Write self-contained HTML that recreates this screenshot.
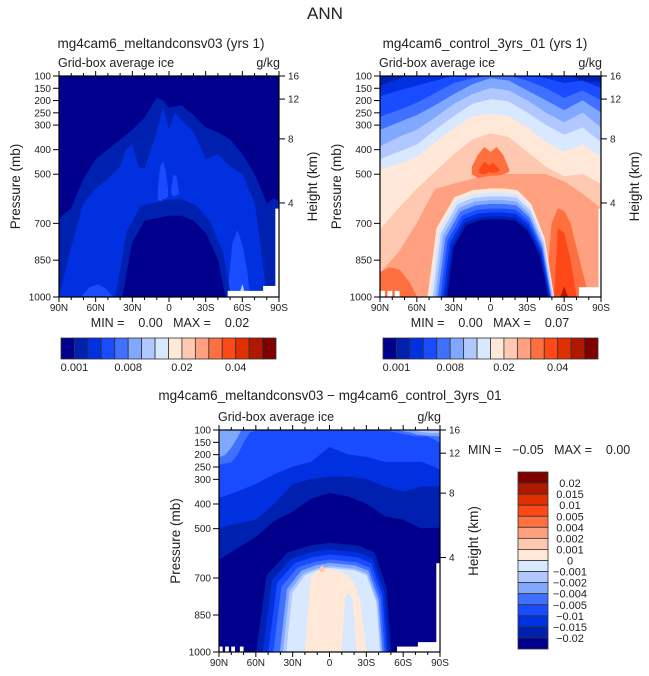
<!DOCTYPE html>
<html><head><meta charset="utf-8">
<style>
html,body{margin:0;padding:0;background:#fff;}
svg{display:block;font-family:"Liberation Sans",sans-serif;}
text{fill:#222;white-space:pre;}
</style></head>
<body>
<svg id="fig" width="649" height="676" viewBox="0 0 649 676" xmlns="http://www.w3.org/2000/svg">
<text x="325" y="19" font-size="17" text-anchor="middle" fill="#444">ANN</text>
</svg>
<script>
const palette=["#00008c","#0020b0","#0030e0","#1a4cff","#4070ff","#80a8ff","#b0c8ff","#d8e8ff","#ffe8d8","#ffc8b0","#ffa080","#ff7040","#ff4818","#e03000","#b01800","#800000"];
const pTicks=[100,150,200,250,300,400,500,700,850,1000];
const latTicks=[90,60,30,0,-30,-60,-90];
const latLabels=["90N","60N","30N","0","30S","60S","90S"];
const heightLabels=[16,12,8,4];
const heightP=[100,194,356,617];
const cbLabelsTop=["0.001","0.008","0.02","0.04"];
const cbLabelIdxTop=[1,5,9,13];
const cbLabelsDiff=["0.02","0.015","0.01","0.005","0.004","0.002","0.001","0","-0.001","-0.002","-0.004","-0.005","-0.01","-0.015","-0.02"];
const lats13=[90,75,60,45,30,15,0,-15,-30,-45,-60,-75,-90];

// Panel 1 (meltandconsv03)
const p1OuterLats=[90,80,70,60,50,40,30,20,10,5,0,-10,-20,-30,-40,-50,-60,-70,-80,-85,-90];
const p1OuterTops=[680,640,520,440,400,360,320,270,190,200,230,220,260,310,330,360,420,500,620,600,610];
const p1InnerLats=[90,80,70,60,50,40,35,30,25,20,10,5,0,-5,-10,-20,-30,-40,-50,-60,-70,-75,-80,-90];
const p1InnerTops=[1000,800,620,560,520,470,400,380,470,480,330,230,320,250,280,330,440,420,470,500,620,800,1000,1000];
const p1CoreLats=[38,30,20,10,0,-10,-20,-30,-40,-46];
const p1CoreTops=[1000,780,690,680,670,670,690,740,850,1000];
const p1Blob1Lats=[9,7,5,3,1], p1Blob1Tops=[560,470,450,480,560], p1Blob1Bots=[600,610,600,600,590];
const p1Blob2Lats=[-2,-4,-6,-8], p1Blob2Tops=[560,500,510,570], p1Blob2Bots=[580,590,585,580];
const p1Blob3Lats=[-48,-52,-56,-60,-64,-66], p1Blob3Tops=[1000,780,730,790,900,1000];
const p1Blob4Lats=[72,65,58,52,46], p1Blob4Tops=[1000,960,950,965,1000];
const p1Spot1Lats=[-57,-60,-63], p1Spot1Tops=[1000,950,1000];

// Panel 2 (control)
const p2Levels=[
 [184,160,140,120,100,100,100,100,100,110,130,120,150],
 [267,240,210,170,130,110,100,100,120,150,190,160,200],
 [320,290,260,220,175,135,110,120,160,200,240,200,250],
 [388,350,320,270,215,175,150,160,200,250,290,250,310],
 [440,410,380,320,265,215,195,205,250,300,340,310,370],
 [483,460,430,370,315,265,255,265,310,370,410,380,430],
 [727,640,560,490,420,360,335,350,410,470,510,500,540],
 [903,820,700,560,540,520,500,500,500,500,530,580,640]
];
const p2LevelColors=[3,4,5,6,7,8,9,10];
const p2OrangeLLats=[90,82,74,66,60], p2OrangeLTops=[900,880,890,940,1000];
const p2OrangeRLats=[-45,-50,-55,-60,-65,-70,-75,-80], p2OrangeRTops=[1000,700,640,650,700,800,900,1000];
const p2RedRLats=[-52,-55,-60,-65,-70], p2RedRTops=[1000,720,740,850,1000];
const p2DarkLats=[-57,-60,-63], p2DarkTops=[1000,960,1000];
const p2Blob11Lats=[15,10,5,0,-5,-10,-15], p2Blob11Tops=[470,420,390,410,390,420,480], p2Blob11Bots=[500,515,510,505,505,500,490];
const p2Blob12Lats=[9,5,1,-2,-7], p2Blob12Tops=[480,450,465,455,480], p2Blob12Bots=[495,500,490,495,488];
const p2ArchLats=[35,30,20,10,0,-10,-20,-30,-40,-47];
const p2ArchTops=[1000,800,710,690,685,685,690,730,830,1000];
const p2RingColors=[8,7,6,5,4,3,2,1,0];
const p2RingSL=[1.46,1.40,1.34,1.28,1.22,1.16,1.10,1.05,1];
const p2RingSR=[1.10,1.09,1.08,1.06,1.05,1.04,1.03,1.01,1];
const p2RingSP=[1.40,1.35,1.30,1.25,1.20,1.14,1.09,1.04,1];

// Panel 3 (difference)
const p3L2=[376,350,320,280,250,230,170,200,210,230,230,230,260];
const p3L1=[497,480,465,400,320,300,290,290,300,330,351,330,330];
const p3L0=[627,580,534,470,432,380,356,370,400,450,465,500,497];
const p3TL4Lats=[90,80,75,70,65,60], p3TL4Bots=[240,230,200,150,110,100];
const p3TL5Lats=[90,85,80,75,72], p3TL5Bots=[210,200,170,130,100];
const p3TR4Lats=[-40,-50,-60,-70,-80,-90], p3TR4Bots=[100,105,115,125,125,150];
const p3TR5Lats=[-55,-65,-72,-80,-90], p3TR5Bots=[100,108,118,122,125];
const p3TR6Lats=[-68,-76,-84,-90], p3TR6Bots=[100,108,112,110];
const p3ArchLats=[35,30,20,10,0,-10,-20,-30,-38,-41];
const p3ArchTops=[1000,760,690,670,660,665,670,690,800,1000];
const p3RingColors=[1,2,3,4,5,6,7];
const p3RingSL=[1.7,1.55,1.42,1.3,1.15,1.08,1];
const p3RingSR=[1.22,1.17,1.13,1.09,1.05,1.02,1];
const p3RingSP=[1.3,1.22,1.16,1.1,1.06,1.02,1];
const p3PeachLats=[20,15,10,5,0,-5,-10,-15,-20,-25,-30];
const p3PeachTops=[1000,700,670,660,665,670,680,690,720,800,1000];
const p3BlueStreakLats=[-10,-13,-16,-19,-22], p3BlueStreakTops=[1000,780,760,800,1000];
const p3RedSpotLats=[8,6,4], p3RedSpotTops=[660,650,662], p3RedSpotBots=[672,675,670];

const NS="http://www.w3.org/2000/svg";
const svg=document.getElementById('fig');
function mk(tag,attrs,parent){const e=document.createElementNS(NS,tag);for(const k in attrs)e.setAttribute(k,attrs[k]);(parent||svg).appendChild(e);return e;}

function makePanel(x0,y0,w,h){
  return {x0,y0,w,h,
    X:lat=>x0+(90-lat)/180*w,
    Y:p=>y0+(p-100)/900*h};
}
function layer(g,P,color,lats,tops,bots,name){
  let pts=lats.map((l,i)=>P.X(Math.max(-90,Math.min(90,l)))+","+P.Y(tops[i]));
  if(bots){for(let i=lats.length-1;i>=0;i--)pts.push(P.X(lats[i])+","+P.Y(bots[i]));}
  else{pts.push(P.X(Math.max(-90,Math.min(90,lats[lats.length-1])))+","+P.Y(1000));pts.push(P.X(Math.max(-90,Math.min(90,lats[0])))+","+P.Y(1000));}
  const e=mk('polygon',{points:pts.join(" "),fill:color,stroke:color,'stroke-width':0.5},g);
  
  
  return e;
}
function ring(g,P,color,lats,tops,sl,sr,sp,name){
  const L=lats.map(l=>l>=0?Math.min(90,l*sl):Math.max(-90,l*sr));
  const T=tops.map(p=>Math.max(100,1000-(1000-p)*sp));
  layer(g,P,color,L,T,null,name);
}
function whiteRect(g,P,lat1,lat2,p1,p2){
  const e=mk('rect',{x:P.X(lat1),y:P.Y(p1),width:P.X(lat2)-P.X(lat1),height:P.Y(p2)-P.Y(p1),fill:'#fff'},g);
  
  
}
function axes(P,prefix,titleTxt,titleX,titleY){
  const g=mk('g',{});
  
  
  mk('rect',{x:P.x0,y:P.y0,width:P.w,height:P.h,fill:'none',stroke:'#000','stroke-width':1.2},g);
  pTicks.forEach(p=>{
    const y=P.Y(p);
    mk('line',{x1:P.x0-6,y1:y,x2:P.x0,y2:y,stroke:'#000'},g);
    const t=mk('text',{x:P.x0-8,y:y+3.5,'font-size':10,'text-anchor':'end'},g);t.textContent=p;
    
    
  });
  heightLabels.forEach((hk,i)=>{
    const y=P.Y(heightP[i]);
    mk('line',{x1:P.x0+P.w,y1:y,x2:P.x0+P.w+6,y2:y,stroke:'#000'},g);
    const t=mk('text',{x:P.x0+P.w+9,y:y+3.5,'font-size':10},g);t.textContent=hk;
    
    
  });
  latTicks.forEach((l,i)=>{
    const x=P.X(l);
    mk('line',{x1:x,y1:P.y0+P.h,x2:x,y2:P.y0+P.h+5,stroke:'#000'},g);
    mk('line',{x1:x,y1:P.y0,x2:x,y2:P.y0-5,stroke:'#000'},g);
    const t=mk('text',{x:x,y:P.y0+P.h+14,'font-size':10,'text-anchor':'middle'},g);t.textContent=latLabels[i];
    
    
  });
  for(let l=80;l>-90;l-=10){ if(l%30===0)continue;
    const x=P.X(l);
    mk('line',{x1:x,y1:P.y0+P.h,x2:x,y2:P.y0+P.h+3,stroke:'#000'},g);
    mk('line',{x1:x,y1:P.y0,x2:x,y2:P.y0-3,stroke:'#000'},g);
  }
  let t=mk('text',{x:P.x0-1,y:P.y0-9,'font-size':12.5},g);t.textContent='Grid-box average ice';
  
  t=mk('text',{x:P.x0+P.w+1,y:P.y0-9,'font-size':12.5,'text-anchor':'end'},g);t.textContent='g/kg';
  
  const cy=P.y0+P.h/2;
  t=mk('text',{x:P.x0-39,y:cy,'font-size':13.5,'text-anchor':'middle',transform:`rotate(-90 ${P.x0-39} ${cy})`,fill:'#333'},g);t.textContent='Pressure (mb)';
  
  t=mk('text',{x:P.x0+P.w+38,y:cy,'font-size':13.5,'text-anchor':'middle',transform:`rotate(-90 ${P.x0+P.w+38} ${cy})`,fill:'#444'},g);t.textContent='Height (km)';
  
  t=mk('text',{x:titleX,y:titleY,'font-size':13.5,'text-anchor':'middle'},g);t.textContent=titleTxt;
  
}
function clipGroup(P,id,name){
  const cp=mk('clipPath',{id:id});mk('rect',{x:P.x0,y:P.y0,width:P.w,height:P.h},cp);
  const g=mk('g',{'clip-path':`url(#${id})`});
  
  
  return g;
}
function hColorbar(x,y,w,h,name){
  const g=mk('g',{});
  
  
  const bw=w/palette.length;
  palette.forEach((c,i)=>{
    const r=mk('rect',{x:x+i*bw,y:y,width:bw,height:h,fill:c,stroke:'#333','stroke-width':0.8},g);
    
    
  });
  cbLabelsTop.forEach((s,i)=>{
    const t=mk('text',{x:x+cbLabelIdxTop[i]*bw,y:y+h+12,'font-size':11,'text-anchor':'middle'},g);t.textContent=s;
    
  });
}

// ---------- Panel 1 ----------
const P1=makePanel(59,76,220,221);
{
  const g=clipGroup(P1,'c1','panel1-contours');
  mk('rect',{x:P1.x0,y:P1.y0,width:P1.w,height:P1.h,fill:palette[0]},g);
  layer(g,P1,palette[1],p1OuterLats,p1OuterTops);
  layer(g,P1,palette[2],p1InnerLats,p1InnerTops);
  layer(g,P1,palette[3],p1Blob1Lats,p1Blob1Tops,p1Blob1Bots);
  layer(g,P1,palette[3],p1Blob2Lats,p1Blob2Tops,p1Blob2Bots);
  layer(g,P1,palette[3],p1Blob3Lats,p1Blob3Tops);
  layer(g,P1,palette[3],p1Blob4Lats,p1Blob4Tops);
  layer(g,P1,palette[6],p1Spot1Lats,p1Spot1Tops);
  ring(g,P1,palette[1],p1CoreLats,p1CoreTops,1.15,1.1,1.2,'core-ring');
  layer(g,P1,palette[0],p1CoreLats,p1CoreTops,null,'core');
  whiteRect(g,P1,-48,-90,975,1000);
  whiteRect(g,P1,-77,-90,955,1000);
  whiteRect(g,P1,-87,-90,640,1000);
  axes(P1,'panel1','mg4cam6_meltandconsv03 (yrs 1)',161,48);
  const t=mk('text',{x:170,y:327,'font-size':12.5,'text-anchor':'middle'});t.textContent='MIN =    0.00   MAX =    0.02';
  
  hColorbar(61,338,215,21,'panel1-colorbar');
}
// ---------- Panel 2 ----------
const P2=makePanel(380,76,221,221);
{
  const g=clipGroup(P2,'c2','panel2-contours');
  mk('rect',{x:P2.x0,y:P2.y0,width:P2.w,height:P2.h,fill:palette[2]},g);
  layer(g,P2,palette[1],[90,80,70],[100,100,100],[140,120,100],'top-band');
  layer(g,P2,palette[1],[-65,-75,-90],[100,100,100],[100,120,125],'top-band');
  p2Levels.forEach((tops,i)=>layer(g,P2,palette[p2LevelColors[i]],lats13,tops));
  layer(g,P2,palette[11],p2OrangeLLats,p2OrangeLTops);
  layer(g,P2,palette[11],p2OrangeRLats,p2OrangeRTops);
  layer(g,P2,palette[12],p2RedRLats,p2RedRTops);
  layer(g,P2,palette[14],p2DarkLats,p2DarkTops);
  layer(g,P2,palette[11],p2Blob11Lats,p2Blob11Tops,p2Blob11Bots);
  layer(g,P2,palette[12],p2Blob12Lats,p2Blob12Tops,p2Blob12Bots);
  p2RingColors.forEach((c,i)=>ring(g,P2,palette[c],p2ArchLats,p2ArchTops,p2RingSL[i],p2RingSR[i],p2RingSP[i],'arch-ring'));
  whiteRect(g,P2,90,86,975,1000);whiteRect(g,P2,84,80,975,1000);whiteRect(g,P2,78,74,975,1000);
  whiteRect(g,P2,-72,-90,960,1000);
  whiteRect(g,P2,-88,-90,640,1000);
  axes(P2,'panel2','mg4cam6_control_3yrs_01 (yrs 1)',485,48);
  const t=mk('text',{x:490,y:327,'font-size':12.5,'text-anchor':'middle'});t.textContent='MIN =    0.00   MAX =    0.07';
  
  hColorbar(383,338,215,21,'panel2-colorbar');
}
// ---------- Panel 3 ----------
const P3=makePanel(219,430,221,222);
{
  const g=clipGroup(P3,'c3','panel3-contours');
  mk('rect',{x:P3.x0,y:P3.y0,width:P3.w,height:P3.h,fill:palette[3]},g);
  layer(g,P3,palette[4],p3TL4Lats,p3TL4Lats.map(()=>100),p3TL4Bots,'top-left-band');
  layer(g,P3,palette[5],p3TL5Lats,p3TL5Lats.map(()=>100),p3TL5Bots,'top-left-band');
  layer(g,P3,palette[4],p3TR4Lats,p3TR4Lats.map(()=>100),p3TR4Bots,'top-right-band');
  layer(g,P3,palette[5],p3TR5Lats,p3TR5Lats.map(()=>100),p3TR5Bots,'top-right-band');
  layer(g,P3,palette[6],p3TR6Lats,p3TR6Lats.map(()=>100),p3TR6Bots,'top-right-band');
  layer(g,P3,palette[2],lats13,p3L2);
  layer(g,P3,palette[1],lats13,p3L1);
  layer(g,P3,palette[0],lats13,p3L0);
  p3RingColors.forEach((c,i)=>ring(g,P3,palette[c],p3ArchLats,p3ArchTops,p3RingSL[i],p3RingSR[i],p3RingSP[i],'arch-ring'));
  layer(g,P3,palette[8],p3PeachLats,p3PeachTops,null,'positive-core');
  layer(g,P3,palette[7],p3BlueStreakLats,p3BlueStreakTops,null,'negative-streak');
  layer(g,P3,palette[9],p3RedSpotLats,p3RedSpotTops,p3RedSpotBots,'positive-spot');
  whiteRect(g,P3,90,87,978,1000);whiteRect(g,P3,85,82,978,1000);whiteRect(g,P3,80,77,978,1000);whiteRect(g,P3,73,70,978,1000);
  whiteRect(g,P3,-55,-90,978,1000);
  whiteRect(g,P3,-72,-90,960,1000);
  whiteRect(g,P3,-87,-90,640,1000);
  axes(P3,'panel3','mg4cam6_meltandconsv03 − mg4cam6_control_3yrs_01',330,400);
  const t=mk('text',{x:468,y:454,'font-size':12.5});t.textContent='MIN =   −0.05   MAX =    0.00';
  
  const cg=mk('g',{});
  
  
  const bx=518,by=472,bw=30,bh=177/16;
  for(let i=0;i<16;i++){
    const r=mk('rect',{x:bx,y:by+i*bh,width:bw,height:bh,fill:palette[15-i],stroke:'#333','stroke-width':0.8},cg);
    
    
  }
  cbLabelsDiff.forEach((s,i)=>{
    const tt=mk('text',{x:570,y:by+(i+1)*bh+4,'font-size':11,'text-anchor':'middle'},cg);tt.textContent=s.replace('-','−');
    
  });
}
</script>
</body></html>
